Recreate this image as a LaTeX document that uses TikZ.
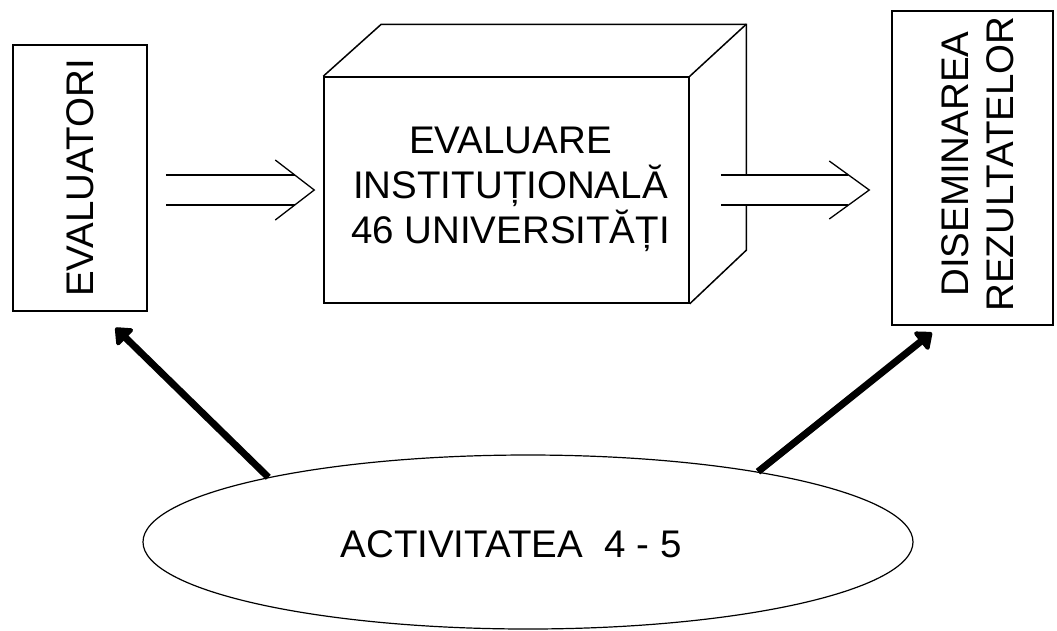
\documentclass[tikz,border=0pt]{standalone}
\usepackage{fontspec}
\setmainfont{Liberation Sans}
\usetikzlibrary{shapes,arrows,positioning,calc,arrows.meta}

\begin{document}
\begin{tikzpicture}[x=1pt,y=-1pt,
    box/.style={draw, line width=1.5pt, inner sep=0pt},
    lbl/.style={font=\fontsize{38.5}{45}\selectfont, align=center},
    dbl/.style={double, line width=1.3pt, double distance=28.7pt},
    head/.style={line width=1.3pt},
    bigarrow/.style={line width=7pt, -{Triangle[round,length=16pt,width=26pt]}}]
    \useasboundingbox (0,0) rectangle (1057,630);

    % boxes
    \node[box, minimum width=134pt, minimum height=266pt] (evlbox) at (80,178) {};
    \node[lbl, rotate=90] (evltxt) at (evlbox.center) {EVALUATORI};
    \node[box, minimum width=161pt, minimum height=314pt] (disbox) at (972.5,168) {};
    \node[lbl, rotate=90] (distxt) at ($(disbox.center)+(5,-4)$) {DISEMINAREA\\REZULTATELOR};

    % cube
    \node[box, minimum width=365pt, minimum height=226pt] (inst) at (506.5,190) {};
    \draw[line width=1.5pt] (inst.north west) -- ++(58,-52) -- ++(365,0) coordinate (bk)
        -- ++(0,226) -- (inst.south east);
    \draw[line width=1.5pt] (inst.north east) -- (bk);
    \node[lbl] (insttxt) at ($(inst.center)+(4,-1)$) {EVALUARE\\INSTITUȚIONALĂ\\46 UNIVERSITĂȚI};

    % ellipse
    \node[draw, ellipse, line width=1.2pt, minimum width=770pt, minimum height=174pt] (act) at (528,542) {};
    \node[lbl] (acttxt) at ($(act.center)+(-17,2)$) {ACTIVITATEA\ \ 4 - 5};

    % double arrows
    \draw[dbl] ($(evlbox.east |- inst.west)+(18,0)$) -- ($(inst.west)+(-28,0)$);
    \draw[head] ($(inst.west)+(-48,-30)$) -- ($(inst.west)+(-9,0)$) -- ($(inst.west)+(-48,30)$);
    \draw[dbl] ($(inst.east)+(31,0)$) -- ($(inst.east -| disbox.west)+(-43,0)$);
    \draw[head] ($(inst.east -| disbox.west)+(-62,-29)$) -- ($(inst.east -| disbox.west)+(-22,0)$)
        -- ($(inst.east -| disbox.west)+(-62,29)$);

    % thick arrows
    \draw[bigarrow, shorten >=23pt] (act.166) -- ($(evlbox.south)+(19,0)$);
    \draw[bigarrow, shorten >=11pt] (act.17) -- ($(disbox.south)+(-32,0)$);
\end{tikzpicture}
\end{document}
